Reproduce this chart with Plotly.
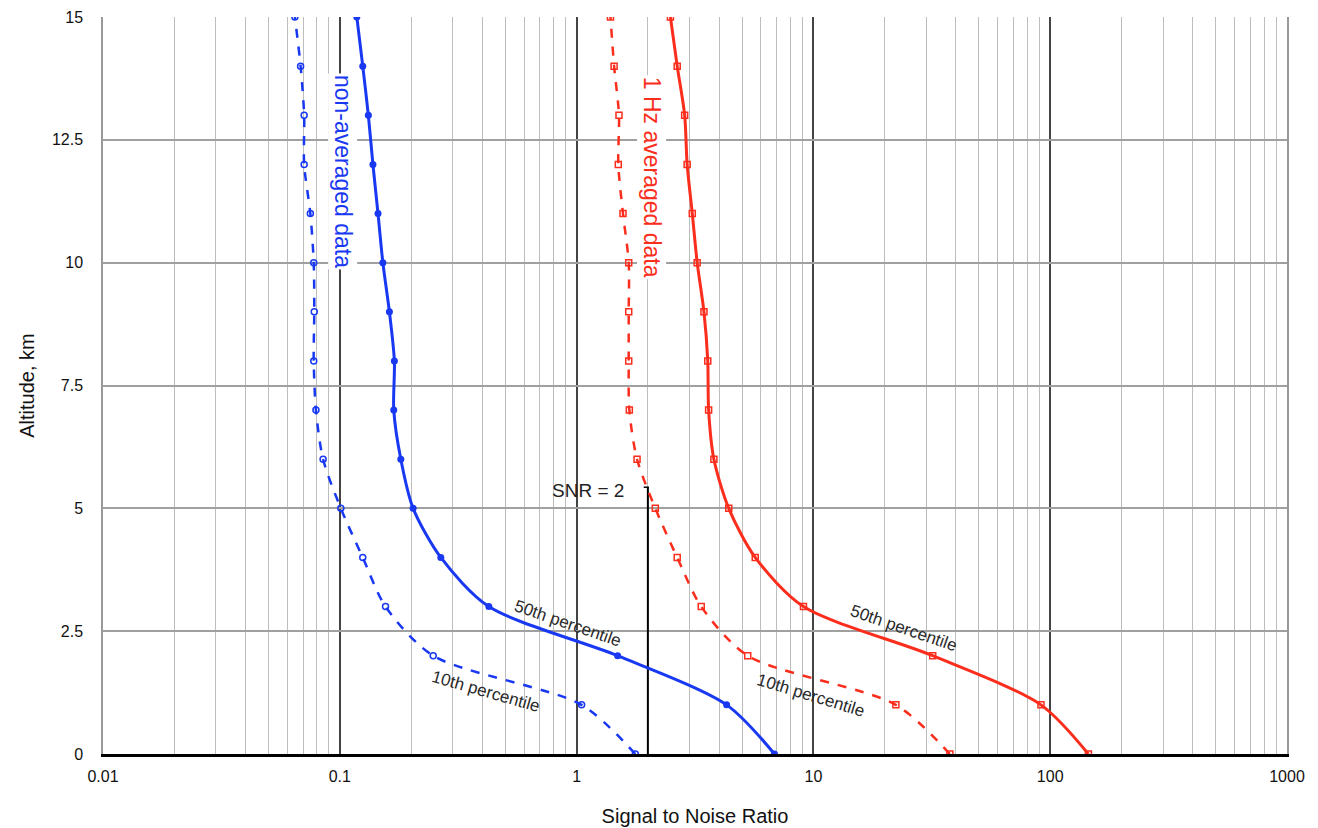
import plotly.graph_objects as go

# ---- data ----
altitude_km = [0, 1, 2, 3, 4, 5, 6, 7, 8, 9, 10, 11, 12, 13, 14, 15]
snr_nonavg_p50 = [6.85, 4.3, 1.49, 0.426, 0.267, 0.204, 0.181, 0.169, 0.170, 0.162, 0.152, 0.145, 0.138, 0.132, 0.125, 0.118]
snr_nonavg_p10 = [1.77, 1.05, 0.248, 0.156, 0.125, 0.101, 0.085, 0.0793, 0.0776, 0.078, 0.0776, 0.0751, 0.0707, 0.0707, 0.0683, 0.0646]
snr_avg_p50 = [145, 91.4, 31.9, 9.08, 5.68, 4.39, 3.80, 3.61, 3.58, 3.45, 3.23, 3.08, 2.93, 2.86, 2.66, 2.49]
snr_avg_p10 = [37.7, 22.3, 5.28, 3.36, 2.66, 2.15, 1.80, 1.67, 1.66, 1.66, 1.66, 1.57, 1.50, 1.51, 1.44, 1.39]

snr_threshold = 2
snr_line_alt = [0, 5.43]

x_tick_vals = [0.01, 0.1, 1, 10, 100, 1000]
x_tick_text = ["0.01", "0.1", "1", "10", "100", "1000"]
y_tick_vals = [0, 2.5, 5, 7.5, 10, 12.5, 15]
y_tick_text = ["0", "2.5", "5", "7.5", "10", "12.5", "15"]

BLUE = "#1838f2"
RED = "#fb2d1c"
FONT = "Liberation Sans, Arial, Helvetica, sans-serif"

fig = go.Figure()

# SNR = 2 marker line
fig.add_trace(go.Scatter(x=[snr_threshold, snr_threshold], y=snr_line_alt, mode="lines",
                         line=dict(color="black", width=2), hoverinfo="skip", showlegend=False))
fig.add_trace(go.Scatter(x=[snr_threshold * 0.96, snr_threshold * 1.01], y=[snr_line_alt[1], snr_line_alt[1]],
                         mode="lines", line=dict(color="black", width=1.5), hoverinfo="skip", showlegend=False))

fig.add_trace(go.Scatter(x=snr_nonavg_p10, y=altitude_km, mode="lines+markers",
                         line=dict(color=BLUE, width=2.5, dash="dash", shape="spline", smoothing=0.8),
                         marker=dict(symbol="circle-open", size=6, color=BLUE, line=dict(width=1.5)),
                         showlegend=False))
fig.add_trace(go.Scatter(x=snr_nonavg_p50, y=altitude_km, mode="lines+markers",
                         line=dict(color=BLUE, width=3, shape="spline", smoothing=0.8),
                         marker=dict(symbol="circle", size=7, color=BLUE),
                         showlegend=False))
fig.add_trace(go.Scatter(x=snr_avg_p10, y=altitude_km, mode="lines+markers",
                         line=dict(color=RED, width=2.5, dash="dash", shape="spline", smoothing=0.8),
                         marker=dict(symbol="square-open", size=6, color=RED, line=dict(width=1.5)),
                         showlegend=False))
fig.add_trace(go.Scatter(x=snr_avg_p50, y=altitude_km, mode="lines+markers",
                         line=dict(color=RED, width=3, shape="spline", smoothing=0.8),
                         marker=dict(symbol="square-open", size=6, color=RED, line=dict(width=1.5)),
                         showlegend=False))

# annotations
LBL = dict(color="#2a2a2a", size=17, family=FONT)
ann = [
    dict(x=-0.987, y=11.85, text="non-averaged data", textangle=90, font=dict(color=BLUE, size=23, family=FONT),
         bgcolor="white"),
    dict(x=0.316, y=11.74, text="1 Hz averaged data", textangle=90, font=dict(color=RED, size=23, family=FONT),
         bgcolor="white"),
    dict(x=-0.036, y=2.66, text="50th percentile", textangle=19, font=LBL),
    dict(x=-0.384, y=1.27, text="10th percentile", textangle=16, font=LBL),
    dict(x=1.384, y=2.56, text="50th percentile", textangle=19, font=LBL),
    dict(x=0.99, y=1.19, text="10th percentile", textangle=17, font=LBL),
    dict(x=0.207, y=5.37, text="SNR = 2", xanchor="right", showarrow=False,
         font=dict(color="#222", size=19, family=FONT)),
]
for a in ann:
    a.setdefault("showarrow", False)
    a.setdefault("xref", "x")
    a.setdefault("yref", "y")
    fig.add_annotation(**a)

fig.update_layout(
    width=1318, height=828,
    margin=dict(l=103, r=31, t=17, b=74),
    plot_bgcolor="white", paper_bgcolor="white",
    font=dict(family=FONT, color="#111"),
    xaxis=dict(
        type="log", range=[-2, 3], automargin=False,
        tickvals=x_tick_vals, ticktext=x_tick_text,
        tickfont=dict(size=16, color="#111"),
        ticks="", ticklabelstandoff=6,
        showgrid=True, gridcolor="#444", gridwidth=1.5,
        minor=dict(dtick="D1", showgrid=True, gridcolor="#bdbdbd", gridwidth=1, ticks=""),
        showline=True, linecolor="black", linewidth=2.5,
        zeroline=False,
        title=dict(text="Signal to Noise Ratio", font=dict(size=20, color="#111"), standoff=26),
    ),
    yaxis=dict(
        range=[0, 15], automargin=False,
        tickvals=y_tick_vals, ticktext=y_tick_text,
        tickfont=dict(size=16, color="#111"),
        ticks="", ticklabelstandoff=15,
        showgrid=True, gridcolor="#a0a0a0", gridwidth=1.5,
        showline=True, linecolor="#999", linewidth=1.5, mirror=True,
        zeroline=False,
        title=dict(text="Altitude, km", font=dict(size=20, color="#111"), standoff=12),
    ),
)

fig.write_html("out.html", config={"displayModeBar": False},
               post_script="document.body.style.margin='0';document.body.style.overflow='hidden';")
